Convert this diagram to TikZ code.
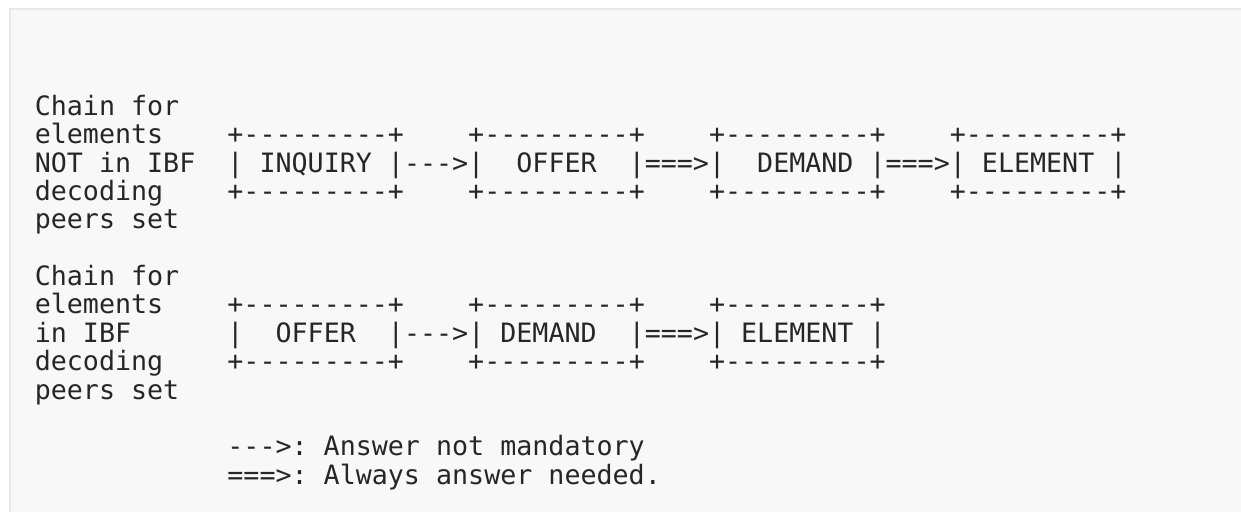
\documentclass[tikz,border=0pt]{standalone}
\usepackage{fontspec}
\setmonofont{DejaVu Sans Mono}
\definecolor{ink}{HTML}{262626}
\definecolor{panel}{HTML}{F8F8F8}
\definecolor{rim}{HTML}{E8E8E8}
\tikzset{
  txt/.style={anchor=base west, inner sep=0pt, outer sep=0pt, text=ink,
    font=\ttfamily\fontsize{20pt}{24pt}\selectfont},
}
\newcommand{\pcol}[1]{34.8+16.05*#1}
\newcommand{\prow}[1]{115.5+28.35*#1}
\begin{document}
\begin{tikzpicture}[x=0.75pt,y=-0.75pt]
\useasboundingbox (0,0) rectangle (1241,511);
\fill[white] (0,0) rectangle (1241,511);
\fill[panel] (9,8) rectangle (1245,515);
\draw[rim,line width=1.8pt] (10,515) -- (10,9) -- (1245,9);
\node[txt] (l0) at ({\pcol{0}},{\prow{0}}) {Chain for};
\node[txt] (l1) at ({\pcol{0}},{\prow{1}}) {elements~~~~+---------+~~~~+---------+~~~~+---------+~~~~+---------+};
\node[txt] (l2) at ({\pcol{0}},{\prow{2}}) {NOT in IBF~~|~INQUIRY~|--->|~~OFFER~~|===>|~~DEMAND~|===>|~ELEMENT~|};
\node[txt] (l3) at ({\pcol{0}},{\prow{3}}) {decoding~~~~+---------+~~~~+---------+~~~~+---------+~~~~+---------+};
\node[txt] (l4) at ({\pcol{0}},{\prow{4}}) {peers set};
\node[txt] (l6) at ({\pcol{0}},{\prow{6}}) {Chain for};
\node[txt] (l7) at ({\pcol{0}},{\prow{7}}) {elements~~~~+---------+~~~~+---------+~~~~+---------+};
\node[txt] (l8) at ({\pcol{0}},{\prow{8}}) {in IBF~~~~~~|~~OFFER~~|--->|~DEMAND~~|===>|~ELEMENT~|};
\node[txt] (l9) at ({\pcol{0}},{\prow{9}}) {decoding~~~~+---------+~~~~+---------+~~~~+---------+};
\node[txt] (l10) at ({\pcol{0}},{\prow{10}}) {peers set};
\node[txt] (l12) at ({\pcol{12}},{\prow{12}}) {--->:~Answer not mandatory};
\node[txt] (l13) at ({\pcol{12}},{\prow{13}}) {===>:~Always answer needed.};
\end{tikzpicture}
\end{document}
